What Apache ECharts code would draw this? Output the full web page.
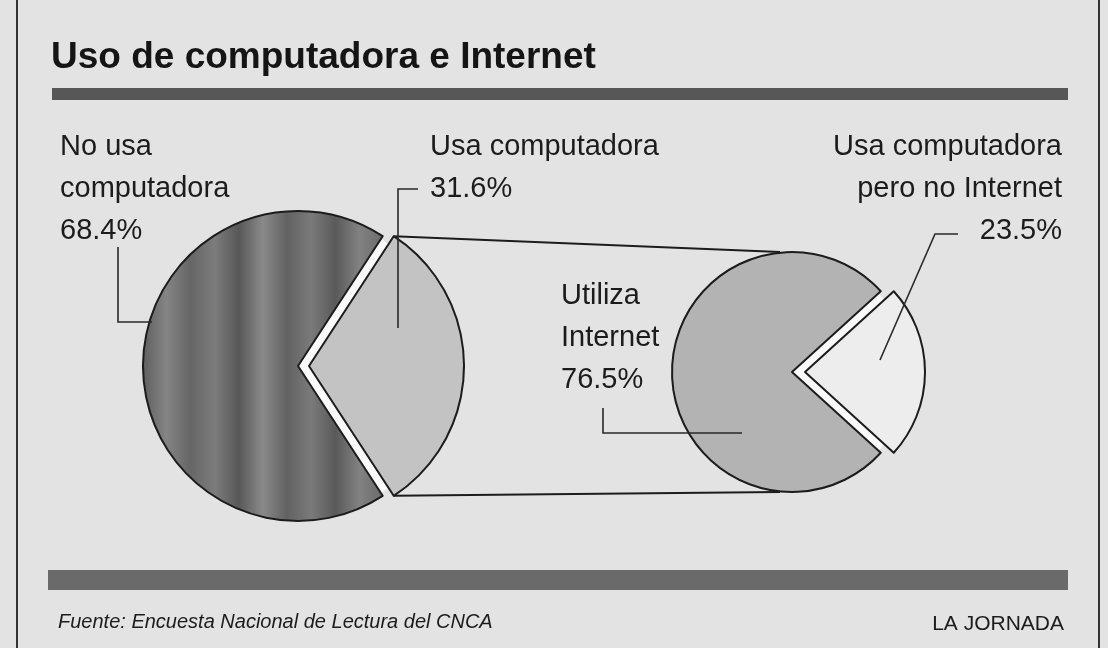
<!DOCTYPE html>
<html lang="es">

<head>
  <meta charset="UTF-8" />
  <title>Uso de computadora e Internet</title>
  <script src="https://cdn.jsdelivr.net/npm/echarts/dist/echarts.min.js"></script>
  <style>
    body,
    html {
      margin: 0;
      padding: 0;
      width: 100%;
      height: 100%;
      overflow: hidden;
    }

    #chart {
      width: 1108px;
      height: 648px;
    }
  </style>
</head>

<body>
  <div id="chart"></div>
</body>
<script>
  // datos
  var leftNames = ['Usa computadora', 'No usa computadora'];
  var leftLabels = ['Usa computadora', 'No usa\ncomputadora'];
  var leftValues = [31.6, 68.4];

  var rightNames = ['Usa computadora pero no Internet', 'Utiliza Internet'];
  var rightLabels = ['Usa computadora\npero no Internet', 'Utiliza\nInternet'];
  var rightValues = [23.5, 76.5];

  var titleText = 'Uso de computadora e Internet';
  var sourceText = 'Fuente: Encuesta Nacional de Lectura del CNCA';
  var creditText = 'LA JORNADA';

  // geometria de los pasteles
  var leftCenter = [298, 366], leftR = 155, leftOff = 11;
  var rightCenter = [792, 372], rightR = 120, rightOff = 13;

  var ink = '#1c1c1c';
  var font = '"Liberation Sans", Arial, sans-serif';

  function pct(v) {
    return v.toFixed(1) + '%';
  }

  // franjas verticales del pastel oscuro
  function stripes() {
    var cols = ['#5e5e5e', '#848484', '#666666', '#7c7c7c', '#585858', '#8a8a8a', '#626262', '#7a7a7a', '#5a5a5a', '#828282', '#6a6a6a'];
    var stops = [];
    for (var i = 0; i < cols.length; i++) {
      stops.push({ offset: i / (cols.length - 1), color: cols[i] });
    }
    return { type: 'linear', x: 0, y: 0, x2: 1, y2: 0, colorStops: stops };
  }

  function pieSeries(center, r, off, names, values, colors) {
    return {
      type: 'pie',
      center: center,
      radius: r,
      startAngle: values[0] / 100 * 180,
      clockwise: true,
      selectedMode: 'single',
      selectedOffset: off,
      silent: true,
      animation: false,
      z: 3,
      label: { show: false },
      labelLine: { show: false },
      emphasis: { disabled: true },
      itemStyle: { borderColor: ink, borderWidth: 2 },
      select: { itemStyle: { borderColor: ink, borderWidth: 2 } },
      data: values.map(function (v, i) {
        return {
          name: names[i],
          value: v,
          selected: i === 0,
          itemStyle: { color: colors[i] }
        };
      })
    };
  }

  // hueco blanco entre la rebanada separada y el resto
  function gapSeries(center, r, values) {
    return {
      type: 'pie',
      center: center,
      radius: r - 3,
      startAngle: values[0] / 100 * 180,
      clockwise: true,
      silent: true,
      animation: false,
      z: 2,
      label: { show: false },
      labelLine: { show: false },
      emphasis: { disabled: true },
      data: values.map(function (v, i) {
        return { value: v, itemStyle: { color: i === 0 ? '#fafafa' : 'rgba(0,0,0,0)' } };
      })
    };
  }

  // esquinas de la rebanada separada y extremos del pastel derecho
  var half = leftValues[0] / 100 * Math.PI;
  var cornerTop = [leftCenter[0] + leftOff + leftR * Math.cos(half), leftCenter[1] - leftR * Math.sin(half)];
  var cornerBot = [leftCenter[0] + leftOff + leftR * Math.cos(half), leftCenter[1] + leftR * Math.sin(half)];
  var rightTop = [rightCenter[0] - 12, rightCenter[1] - rightR];
  var rightBot = [rightCenter[0] - 12, rightCenter[1] + rightR];

  function text(x, y, str, size, align, extra) {
    var st = {
      text: str,
      font: (extra || '') + ' ' + size + 'px ' + font,
      fill: ink,
      align: align || 'left',
      verticalAlign: 'top',
      lineHeight: 42
    };
    return { type: 'text', x: x, y: y, style: st, z: 10 };
  }

  function leader(points) {
    return {
      type: 'polyline',
      shape: { points: points },
      style: { stroke: '#2a2a2a', lineWidth: 1.6, fill: null },
      z: 10
    };
  }

  var chart = echarts.init(document.getElementById('chart'));

  var option = {
    backgroundColor: '#e3e3e3',
    title: {
      text: titleText,
      left: 46,
      top: 34,
      textStyle: {
        fontFamily: font,
        fontSize: 37,
        fontWeight: 'bold',
        color: '#151515'
      }
    },
    series: [
      gapSeries(leftCenter, leftR, leftValues),
      gapSeries(rightCenter, rightR, rightValues),
      pieSeries(leftCenter, leftR, leftOff, leftNames, leftValues, ['#c3c3c3', stripes()]),
      pieSeries(rightCenter, rightR, rightOff, rightNames, rightValues, ['#ededed', '#b3b3b3'])
    ],
    graphic: [
      // marco
      { type: 'line', shape: { x1: 17, y1: 0, x2: 17, y2: 648 }, style: { stroke: '#333', lineWidth: 2 } },
      { type: 'line', shape: { x1: 1099, y1: 0, x2: 1099, y2: 648 }, style: { stroke: '#333', lineWidth: 2 } },
      // barras
      { type: 'rect', shape: { x: 52, y: 88, width: 1016, height: 12 }, style: { fill: '#575757' } },
      { type: 'rect', shape: { x: 48, y: 570, width: 1020, height: 20 }, style: { fill: '#6a6a6a' } },
      // lineas de conexion
      { type: 'line', shape: { x1: cornerTop[0], y1: cornerTop[1], x2: rightTop[0], y2: rightTop[1] }, style: { stroke: ink, lineWidth: 2 }, z: 1 },
      { type: 'line', shape: { x1: cornerBot[0], y1: cornerBot[1], x2: rightBot[0], y2: rightBot[1] }, style: { stroke: ink, lineWidth: 2 }, z: 1 },
      // etiquetas
      text(60, 126, leftLabels[1] + '\n' + pct(leftValues[1]), 29),
      leader([[118, 247], [118, 322], [152, 322]]),
      text(430, 126, leftLabels[0] + '\n' + pct(leftValues[0]), 29),
      leader([[418, 189], [398, 189], [398, 328]]),
      text(1062, 126, rightLabels[0] + '\n' + pct(rightValues[0]), 29, 'right'),
      leader([[958, 234], [935, 234], [880, 360]]),
      text(561, 275, rightLabels[1] + '\n' + pct(rightValues[1]), 29),
      leader([[603, 408], [603, 433], [742, 433]]),
      // pie
      text(58, 601, sourceText, 20, 'left', 'italic'),
      text(1064, 603, creditText, 21, 'right')
    ]
  };

  chart.setOption(option);
</script>

</html>
